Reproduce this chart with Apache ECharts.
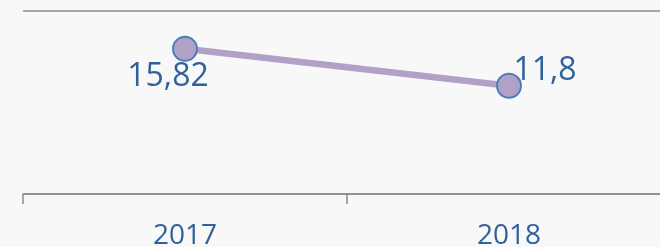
<!DOCTYPE html>
<html>
<head>
<meta charset="utf-8">
<script src="https://cdn.jsdelivr.net/npm/echarts@6/dist/echarts.min.js"></script>
<style>
  html, body { margin: 0; padding: 0; background: #f8f8f9; }
  #main { width: 660px; height: 247px; }
</style>
</head>
<body>
<div id="main"></div>
<script>
// data
var years = ['2017', '2018'];
var values = [15.82, 11.8];
var valueTexts = ['15,82', '11,8'];

var chart = echarts.init(document.getElementById('main'));

var textBlue = '#31619a';
var gray = '#8c8c8c';
// label offsets for each point (like in original slide)
var labelOffsets = [[-17, 28], [36, -15]];

var seriesData = values.map(function (v, i) {
  return {
    value: v,
    label: {
      offset: labelOffsets[i],
      formatter: valueTexts[i]
    }
  };
});

var option = {
  backgroundColor: '#f8f8f9',
  animation: false,
  grid: {
    left: 23,
    top: 10.5,
    width: 648,
    height: 183.5,
    outerBoundsMode: 'none',
    containLabel: false
  },
  xAxis: {
    type: 'category',
    data: years,
    boundaryGap: true,
    axisLine: { lineStyle: { color: gray, width: 1.5 } },
    axisTick: { show: true, length: 10, lineStyle: { color: gray, width: 1.5 } },
    axisLabel: {
      color: textBlue,
      fontFamily: 'Open Sans',
      fontSize: 28,
      margin: 28
    }
  },
  yAxis: {
    type: 'value',
    min: 0,
    max: 20,
    interval: 20,
    axisLine: { show: false },
    axisTick: { show: false },
    axisLabel: { show: false },
    splitLine: { lineStyle: { color: gray, width: 1.5 } }
  },
  series: [{
    type: 'line',
    data: seriesData,
    symbol: 'circle',
    symbolSize: 24,
    lineStyle: { color: '#b2a1c7', width: 6.5 },
    itemStyle: { color: '#b2a1c7', borderColor: '#4a7ebb', borderWidth: 2 },
    label: {
      show: true,
      position: 'inside',
      color: textBlue,
      fontFamily: 'Open Sans',
      fontSize: 32
    }
  }]
};

chart.setOption(option);
</script>
</body>
</html>
